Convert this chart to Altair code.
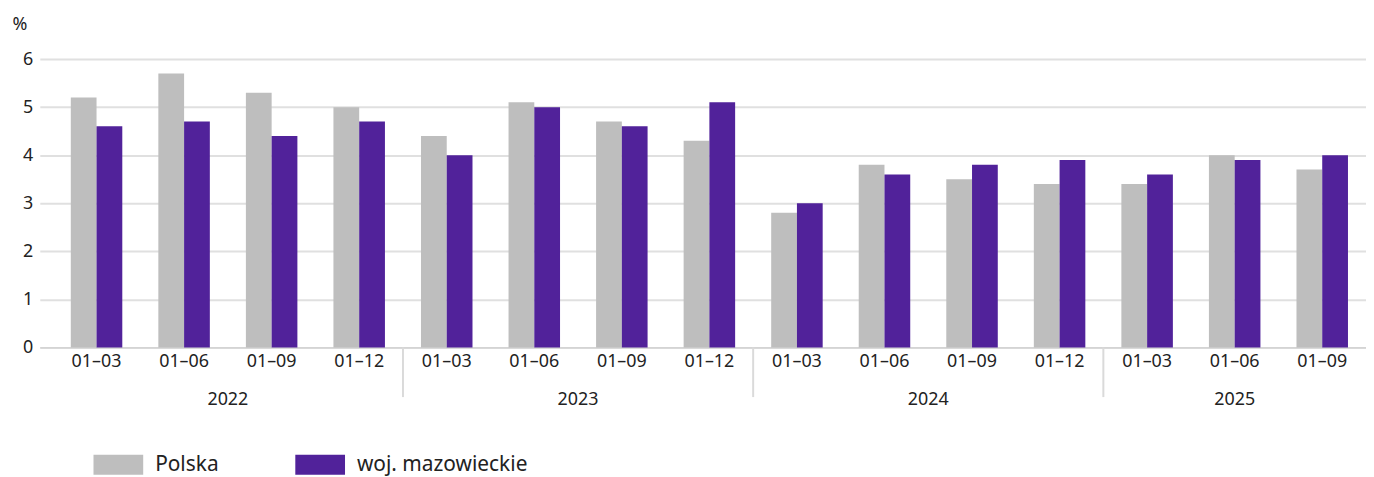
import altair as alt
import pandas as pd

years = ["2022"] * 4 + ["2023"] * 4 + ["2024"] * 4 + ["2025"] * 3
periods = ["01–03", "01–06", "01–09", "01–12"] * 3 + ["01–03", "01–06", "01–09"]
polska = [5.2, 5.7, 5.3, 5.0, 4.4, 5.1, 4.7, 4.3, 2.8, 3.8, 3.5, 3.4, 3.4, 4.0, 3.7]
mazowieckie = [4.6, 4.7, 4.4, 4.7, 4.0, 5.0, 4.6, 5.1, 3.0, 3.6, 3.8, 3.9, 3.6, 3.9, 4.0]
series = ["Polska", "woj. mazowieckie"]
colors = ["#bebebe", "#51229a"]
year_list = ["2022", "2023", "2024", "2025"]

keys = [f"{y}|{p}" for y, p in zip(years, periods)]
rows = []
for k, y, p, a, b in zip(keys, years, periods, polska, mazowieckie):
    rows.append(dict(key=k, year=y, period=p, series=series[0], value=a))
    rows.append(dict(key=k, year=y, period=p, series=series[1], value=b))
df = pd.DataFrame(rows)

# separators at the first period of each year (except the first year)
sep_keys = [keys[years.index(y)] for y in year_list[1:]]
sep_df = pd.DataFrame({"key": sep_keys})

# year label anchors
even_rows, odd_rows = [], []
for y in year_list:
    idx = [i for i, yy in enumerate(years) if yy == y]
    n = len(idx)
    if n % 2 == 0:
        even_rows.append(dict(key=keys[idx[n // 2]], year=y))
    else:
        odd_rows.append(dict(key=keys[idx[n // 2]], year=y))
even_df = pd.DataFrame(even_rows)
odd_df = pd.DataFrame(odd_rows)

W, H = 1334, 290
xscale = alt.Scale(domain=keys, paddingInner=0, paddingOuter=0.074, align=1)
FONT = "Noto Sans"
TXT = "#222222"

bars = alt.Chart(df).mark_bar().encode(
    x=alt.X(
        "key:N",
        scale=xscale,
        sort=keys,
        axis=alt.Axis(
            title=None,
            labelExpr="split(datum.value, '|')[1]",
            ticks=False,
            grid=False,
            domainColor="#d4d4d4",
            domainWidth=2,
            labelFontSize=18,
            labelColor=TXT,
            labelPadding=5,
            labelAngle=0,
        ),
    ),
    xOffset=alt.XOffset(
        "series:N", sort=series,
        scale=alt.Scale(domain=series, paddingInner=0, paddingOuter=0.7),
    ),
    y=alt.Y(
        "value:Q",
        scale=alt.Scale(domain=[0, 6]),
        axis=alt.Axis(
            values=[0, 1, 2, 3, 4, 5, 6],
            title="%",
            titleAngle=0,
            titleX=-28,
            titleY=-30,
            titleAlign="left",
            titleBaseline="alphabetic",
            titleFontSize=18,
            titleFontWeight="normal",
            titleColor=TXT,
            domain=False,
            ticks=False,
            gridColor="#e0e0e0",
            gridWidth=2,
            labelFontSize=18,
            labelPadding=7,
            labelColor=TXT,
        ),
    ),
    color=alt.Color(
        "series:N",
        sort=series,
        scale=alt.Scale(domain=series, range=colors),
        legend=alt.Legend(
            title=None,
            orient="none",
            legendX=54,
            legendY=383,
            direction="horizontal",
            symbolType="M-1,-0.4H1V0.4H-1Z",
            symbolSize=2500,
            symbolStrokeWidth=0,
            symbolOpacity=1,
            labelFontSize=21,
            labelOffset=12,
            labelLimit=0,
            columnPadding=77,
            labelColor=TXT,
            padding=0,
        ),
    ),
)

seps = alt.Chart(sep_df).mark_rule(color="#dadada", strokeWidth=2).encode(
    x=alt.X("key:N", scale=xscale, sort=keys, bandPosition=0),
    y=alt.value(H),
    y2=alt.value(H + 50),
)

year_even = alt.Chart(even_df).mark_text(
    fontSize=18, color=TXT, baseline="alphabetic", align="center"
).encode(
    x=alt.X("key:N", scale=xscale, sort=keys, bandPosition=0),
    y=alt.value(H + 58),
    text="year:N",
)

year_odd = alt.Chart(odd_df).mark_text(
    fontSize=18, color=TXT, baseline="alphabetic", align="center"
).encode(
    x=alt.X("key:N", scale=xscale, sort=keys, bandPosition=0.5),
    y=alt.value(H + 58),
    text="year:N",
)

chart = (
    alt.layer(bars, seps, year_even, year_odd)
    .properties(
        width=W,
        height=H,
        autosize=alt.AutoSizeParams(type="none"),
        padding={"left": 32, "top": 50, "right": 0, "bottom": 129},
    )
    .configure(font=FONT)
    .configure_view(stroke=None)
)

chart.save("out.html", embed_options={"renderer": "svg", "actions": False})
